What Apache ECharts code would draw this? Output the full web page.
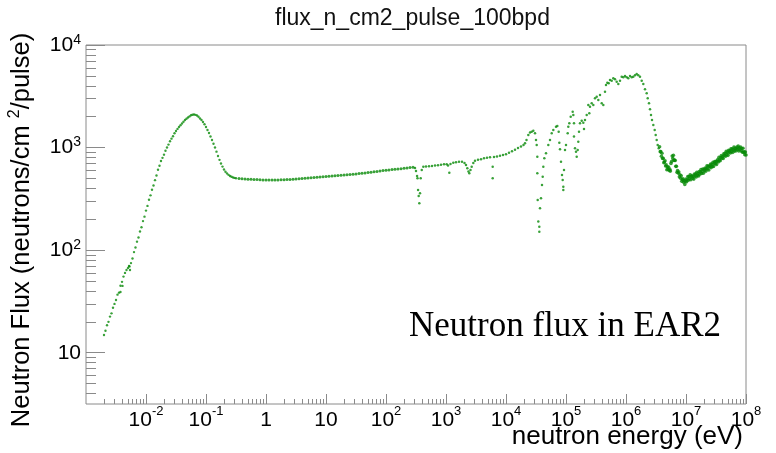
<!DOCTYPE html>
<html><head><meta charset="utf-8">
<script src="https://cdn.jsdelivr.net/npm/echarts@6/dist/echarts.min.js"></script>
<style>html,body{margin:0;padding:0;background:#fff}#c{width:776px;height:453px}</style>
</head><body><div id="c"></div>
<script>
const chartTitle = 'flux_n_cm2_pulse_100bpd';
const xTitle = 'neutron energy (eV)';
const yTitleParts = ['Neutron Flux (neutrons/cm ', '2', '/pulse)'];
const annotation = 'Neutron flux in EAR2';
const xRange = [1e-3, 1e8];
const yRange = [3.1623, 1e4];
const xTickExponents = [-2, -1, 0, 1, 2, 3, 4, 5, 6, 7, 8];
const yTickExponents = [1, 2, 3, 4];

// [energy (eV), flux]
const thermal = [[0.001995,14.9],[0.002113,16.4],[0.002239,18.5],[0.002371,20.0],[0.002512,22.5],[0.002661,24.2],[0.002818,27.4],[0.002985,29.9],[0.003162,32.7],[0.003350,36.8],[0.003548,38.5],[0.003758,45.0],[0.003981,49.1],[0.004217,55.2],[0.004467,60.0],[0.004732,64.1],[0.005012,67.1],[0.005309,69.3],[0.005623,74.8],[0.005957,82.8],[0.006310,95.7],[0.006683,106],[0.007079,121],[0.007499,133],[0.007943,152],[0.008414,167],[0.008913,192],[0.009441,212],[0.01,243],[0.01059,270],[0.01122,310],[0.01189,342],[0.01259,388],[0.01334,427],[0.01413,481],[0.01496,535],[0.01585,608],[0.01679,665],[0.01778,740],[0.01884,794],[0.01995,853],[0.02113,931],[0.02239,1002],[0.02371,1069],[0.02512,1153],[0.02661,1222],[0.02818,1291],[0.02985,1380],[0.03162,1452],[0.03350,1521],[0.03548,1589],[0.03758,1652],[0.03981,1718],[0.04217,1786],[0.04467,1858],[0.04732,1910],[0.05012,1963],[0.05309,2014],[0.05623,2065],[0.05957,2089],[0.06310,2104],[0.06683,2084],[0.07079,2056],[0.07499,1995],[0.07943,1923],[0.08414,1854],[0.08913,1778],[0.09441,1687],[0.1,1589],[0.1059,1486],[0.1122,1387],[0.1189,1282],[0.1259,1186],[0.1334,1091],[0.1413,1002],[0.1496,912],[0.1585,828],[0.1679,759],[0.1778,700],[0.1884,652],[0.1995,612],[0.2113,582],[0.2239,560],[0.2371,542],[0.2512,528],[0.2661,519],[0.2818,512],[0.2985,506],[0.3162,502],
  [0.003758,39.1],[0.00406,44.8],[0.00521,70.2],[0.00541,64.1]];

const plateau = [[0.355,499],[0.398,497],[0.447,494],[0.501,492],[0.562,491],[0.631,489],[0.708,488],[0.794,485],[0.891,483],[1.00,483],[1.12,482],[1.26,483],[1.41,482],[1.58,483],[1.78,485],[2.00,485],[2.24,488],[2.51,489],[2.82,491],[3.16,494],[3.55,497],[3.98,499],[4.47,502],[5.01,505],[5.62,508],[6.31,511],[7.08,514],[7.94,517],[8.91,520],[10.0,523],[11.2,526],[12.6,529],[14.1,532],[15.8,535],[17.8,538],[20.0,541],[22.4,544],[25.1,547],[28.2,550],[31.6,553],[35.5,558],[39.8,562],[44.7,565],[50.1,570],[56.2,575],[63.1,580],[70.8,585],[79.4,592],[89.1,597],[100,601],[112,605],[126,610],[141,614],[158,619],[178,623],[200,628],[224,633],[251,638],[282,643]];

const resonances = [[304,633],[316,592],[329,529],[335,501],[342,386],[351,338],[359,286],[369,358],[379,501],[394,605],[419,651],[464,654],[521,657],[585,662],[656,668],[736,674],[826,680],[926,686],[1027,687],[1080,669],[1135,569],[1189,692],[1323,713],[1468,721],[1647,729],[1848,728],[2034,708],[2154,677],[2265,628],[2371,585],[2445,562],[2561,605],[2681,651],[2851,708],[3043,745],[3415,760],[3831,771],[4299,787],[4824,796],[5412,804],[6000,651],[6000,501],[6310,810],[7079,819],[7943,832],[8913,847],[10000,862],[11220,890],[12590,922],[14130,954],[15850,991],[17780,1025],[19570,1060],[20730,1101],[21970,1186],[23540,1327],[25120,1404],[26810,1429],[28510,1461],[30430,1378],[31620,1186],[32490,1060],[33250,815],[33250,562],[33760,309],[34550,190],[35890,169],[35890,151],[36870,256],[38310,320],[39810,432],[40900,520],[41850,651],[43480,787],[46420,880],[50700,1060],[54120,1186],[57780,1378],[61420,1484],[68130,1599],[71610,1624],[75560,1429],[77320,1116],[79430,962],[82540,729],[85770,541],[88100,483],[90160,416],[90160,386],[92610,605],[96230,948],[100000,1060],[106700,1378],[109200,1599],[113500,1725],[119800,2001],[129300,2238],[132300,2079],[135900,1725],[135900,1280],[141300,984],[146800,912],[150800,815],[156700,948],[160300,1141],[164700,1429],[171100,1725],[182700,1829],[194300,1749],[199500,1518],[207400,1858],[221300,2079],[235300,2601],[244500,2159],[251200,2503],[268100,2703],[285100,2601],[304300,3023],[324900,3134],[345400,2910],[368700,3256],[393600,2703],[418600,2601],[446700,3506],[464200,4075],[487900,4292],[514800,4233],[541200,4559],[577800,4487],[614200,4736],[655600,4631],[699800,4388],[744200,4168],[794300,4487],[847800,4909],[901600,4844],[962400,4988],[1027000,4844],[1092000,4736],[1166000,4988],[1245000,4844],[1324000,4909],[1413000,5067],[1508000,5216],[1603000,5067],[1711000,4909],[1827000,4487],[1943000,4168],[2074000,3700],[2213000,3382],[2300000,3023],[2417000,2703],[2512000,2362],[2610000,2079],[2713000,1858],[2851000,1661],[3008000,1484],[3126000,1327],[3249000,1186],[3376000,1060],[3508000,984]];

const fast = [[3.63e6,1019],[3.72e6,912],[3.80e6,912],[3.89e6,822],[3.98e6,879],[4.07e6,783],[4.17e6,787],[4.27e6,713],[4.37e6,724],[4.47e6,743],[4.57e6,661],[4.68e6,678],[4.79e6,608],[4.90e6,650],[5.01e6,617],[5.13e6,644],[5.25e6,596],[5.37e6,614],[5.50e6,590],[5.62e6,701],[5.75e6,731],[5.89e6,826],[6.03e6,782],[6.17e6,840],[6.31e6,750],[6.46e6,755],[6.61e6,748],[6.76e6,656],[6.92e6,656],[7.08e6,574],[7.24e6,598],[7.41e6,564],[7.59e6,578],[7.76e6,518],[7.94e6,542],[8.13e6,502],[8.32e6,531],[8.51e6,470],[8.71e6,486],[8.91e6,495],[9.12e6,459],[9.33e6,476],[9.55e6,437],[9.77e6,470],[1.00e7,492],[1.023e7,463],[1.047e7,485],[1.072e7,522],[1.096e7,481],[1.122e7,522],[1.148e7,499],[1.175e7,542],[1.202e7,486],[1.230e7,522],[1.259e7,532],[1.288e7,501],[1.318e7,524],[1.349e7,493],[1.380e7,553],[1.413e7,527],[1.445e7,553],[1.479e7,516],[1.514e7,575],[1.549e7,538],[1.585e7,557],[1.622e7,528],[1.660e7,583],[1.698e7,549],[1.738e7,582],[1.778e7,611],[1.820e7,558],[1.862e7,582],[1.905e7,617],[1.950e7,561],[1.995e7,614],[2.042e7,596],[2.089e7,632],[2.138e7,589],[2.188e7,624],[2.239e7,664],[2.291e7,618],[2.344e7,659],[2.399e7,605],[2.455e7,659],[2.512e7,649],[2.570e7,690],[2.630e7,638],[2.692e7,686],[2.754e7,655],[2.818e7,718],[2.884e7,655],[2.951e7,703],[3.020e7,731],[3.090e7,695],[3.162e7,736],[3.236e7,684],[3.311e7,736],[3.388e7,766],[3.467e7,724],[3.548e7,804],[3.631e7,757],[3.715e7,745],[3.802e7,800],[3.890e7,838],[3.981e7,785],[4.074e7,818],[4.169e7,783],[4.266e7,869],[4.365e7,836],[4.467e7,877],[4.571e7,822],[4.677e7,918],[4.786e7,853],[4.898e7,898],[5.012e7,840],[5.129e7,940],[5.248e7,902],[5.370e7,933],[5.495e7,885],[5.623e7,971],[5.754e7,914],[5.888e7,971],[6.026e7,898],[6.166e7,957],[6.310e7,1014],[6.457e7,929],[6.607e7,982],[6.761e7,925],[6.918e7,975],[7.079e7,1009],[7.244e7,955],[7.413e7,1033],[7.586e7,927],[7.762e7,993],[7.943e7,962],[8.128e7,1009],[8.318e7,929],[8.511e7,979],[8.710e7,900],[8.913e7,986],[9.120e7,902],[9.333e7,908],[9.550e7,853],[9.772e7,906],[1.0e8,845]];

const GREEN = '#078a07';
const GRAY = '#8a8a8a';
const FONT = '"Liberation Sans", Arial, Helvetica, sans-serif';

function minorLogTicks(lo, hi) {
  const out = [];
  for (let n = Math.floor(lo); n < Math.ceil(hi); n++) {
    for (let k = 2; k <= 9; k++) {
      const v = n + Math.log10(k);
      if (v > lo && v < hi) out.push(v);
    }
  }
  return out;
}
const xLo = Math.log10(xRange[0]), xHi = Math.log10(xRange[1]);
const yLo = Math.log10(yRange[0]), yHi = Math.log10(yRange[1]);

function xLabel(v) {
  if (v === 0) return '{b|1}';
  if (v === 1) return '{b|10}';
  return '{b|10}{s|' + v + '}';
}
function yLabel(v) {
  if (v === 1) return '{b|10}';
  return '{b|10}{s|' + v + '}';
}

const chart = echarts.init(document.getElementById('c'), null, { renderer: 'canvas' });
chart.setOption({
  animation: false,
  backgroundColor: '#fff',
  title: {
    text: chartTitle, left: 275, top: 7, padding: 0,
    textStyle: { fontFamily: FONT, fontSize: 23, fontWeight: 'normal', color: '#111' }
  },
  grid: { left: 86, right: 30, top: 45, bottom: 49, show: true, borderColor: GRAY, borderWidth: 1, backgroundColor: 'transparent' },
  xAxis: [
    { type: 'log', logBase: 10, min: xRange[0], max: xRange[1], position: 'bottom',
      axisLine: { show: false, onZero: false }, axisTick: { show: false }, axisLabel: { show: false }, splitLine: { show: false } },
    { type: 'value', min: xLo, max: xHi, position: 'bottom',
      axisLine: { show: false, onZero: false }, splitLine: { show: false },
      axisTick: { show: true, inside: true, length: 10, customValues: xTickExponents, lineStyle: { color: GRAY, width: 1 } },
      axisLabel: { show: true, margin: 1, customValues: xTickExponents, formatter: xLabel,
        rich: { b: { fontFamily: FONT, fontSize: 21, lineHeight: 30, color: '#000' },
                s: { fontFamily: FONT, fontSize: 13, lineHeight: 14, verticalAlign: 'top', color: '#000' } } } },
    { type: 'value', min: xLo, max: xHi, position: 'bottom',
      axisLine: { show: false, onZero: false }, splitLine: { show: false }, axisLabel: { show: false },
      axisTick: { show: true, inside: true, length: 5, customValues: minorLogTicks(xLo, xHi), lineStyle: { color: GRAY, width: 1 } } }
  ],
  yAxis: [
    { type: 'log', logBase: 10, min: yRange[0], max: yRange[1], position: 'left',
      axisLine: { show: false, onZero: false }, axisTick: { show: false }, axisLabel: { show: false }, splitLine: { show: false } },
    { type: 'value', min: yLo, max: yHi, position: 'left',
      axisLine: { show: false, onZero: false }, splitLine: { show: false },
      axisTick: { show: true, inside: true, length: 19, customValues: yTickExponents, lineStyle: { color: GRAY, width: 1 } },
      axisLabel: { show: true, margin: 5, customValues: yTickExponents, formatter: yLabel,
        rich: { b: { fontFamily: FONT, fontSize: 21, lineHeight: 24, color: '#000' },
                s: { fontFamily: FONT, fontSize: 14, lineHeight: 14, verticalAlign: 'top', color: '#000' } } } },
    { type: 'value', min: yLo, max: yHi, position: 'left',
      axisLine: { show: false, onZero: false }, splitLine: { show: false }, axisLabel: { show: false },
      axisTick: { show: true, inside: true, length: 10, customValues: minorLogTicks(yLo, yHi), lineStyle: { color: GRAY, width: 1 } } }
  ],
  series: [
    { name: 'thermal', type: 'scatter', xAxisIndex: 0, yAxisIndex: 0, data: thermal, symbol: 'circle', symbolSize: 2.4, itemStyle: { color: GREEN }, silent: true },
    { name: 'plateau', type: 'scatter', xAxisIndex: 0, yAxisIndex: 0, data: plateau, symbol: 'circle', symbolSize: 3, itemStyle: { color: GREEN }, silent: true },
    { name: 'resonances', type: 'scatter', xAxisIndex: 0, yAxisIndex: 0, data: resonances, symbol: 'circle', symbolSize: 2.5, itemStyle: { color: GREEN }, silent: true },
    { name: 'fast', type: 'scatter', xAxisIndex: 0, yAxisIndex: 0, data: fast, symbol: 'circle', symbolSize: 3.6, itemStyle: { color: GREEN }, silent: true }
  ],
  graphic: [
    { type: 'text', x: 743, y: 437, silent: true,
      style: { text: xTitle, font: '26px ' + FONT, fill: '#000', align: 'right', verticalAlign: 'middle' } },
    { type: 'text', x: 22, y: 230, rotation: Math.PI / 2, silent: true,
      style: { text: '{b|' + yTitleParts[0] + '}{s|' + yTitleParts[1] + '}{b|' + yTitleParts[2] + '}',
        align: 'center', verticalAlign: 'middle',
        rich: { b: { fontFamily: FONT, fontSize: 25.5, lineHeight: 30, fill: '#000', color: '#000' },
                s: { fontFamily: FONT, fontSize: 16, lineHeight: 16, verticalAlign: 'top', fill: '#000', color: '#000' } } } },
    { type: 'text', x: 409, y: 327, silent: true,
      style: { text: annotation, font: '35px "Liberation Serif", "Times New Roman", serif', fill: '#000', align: 'left', verticalAlign: 'middle' } }
  ]
});
</script>
</body></html>
